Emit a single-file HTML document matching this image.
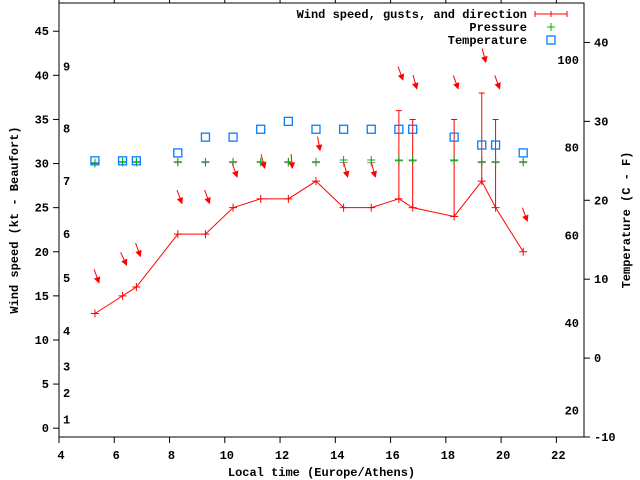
<!DOCTYPE html>
<html><head><meta charset="utf-8"><style>
body{margin:0;background:#fff}
svg{display:block}
text{font-family:"Liberation Mono","DejaVu Sans Mono",monospace;font-size:12px;font-weight:bold;fill:#000}
</style></head><body>
<svg id="chart" width="640" height="480" viewBox="0 0 640 480">
<g id="axes"></g><g id="marks"></g><g id="legend"></g>
</svg>
<script>
const hours=[5.3,6.3,6.8,8.3,9.3,10.3,11.3,12.3,13.3,14.3,15.3,16.3,16.8,18.3,19.3,19.8,20.8];
const windSpeed=[13,15,16,22,22,25,26,26,28,25,25,26,25,24,28,25,20];
const gusts=[null,null,null,null,null,null,null,null,null,null,null,36,35,35,38,35,null];
const pressure=[30.0,30.2,30.2,30.2,30.2,30.2,30.2,30.2,30.2,30.4,30.4,30.4,30.4,30.4,30.2,30.2,30.2];
const pressureGrey=[30.1,30.1,30.1,30.1,30.1,30.1,30.1,30.1,30.1,30.1,30.1,30.3,30.3,30.3,30.1,30.1,30.1];
const temperature=[25,25,25,26,28,28,29,30,29,29,29,29,29,28,27,27,26];
const windDir=[340,335,340,340,340,340,345,355,350,345,345,340,345,340,345,340,340];
const xTicks=[4,6,8,10,12,14,16,18,20,22];
const yTicks=[0,5,10,15,20,25,30,35,40,45];
const y2Ticks=[-10,0,10,20,30,40];
const fTicks=[20,40,60,80,100];
const beaufort=[1,4,7,11,17,22,28,34,41];
const L=59,R=584,T=3,B=437;
const X=v=>L+(v-4)*(R-L)/19;
const Y=v=>B-(v+1)*(B-T)/49.2;
const Y2=v=>B-(v+10)*(B-T)/55;
const NS="http://www.w3.org/2000/svg";
function mk(p,tag,attrs){const e=document.createElementNS(NS,tag);for(const k in attrs)e.setAttribute(k,attrs[k]);p.appendChild(e);return e;}
const ax=document.getElementById('axes'),mg=document.getElementById('marks'),lg=document.getElementById('legend');
let e=mk(ax,'rect',{x:L,y:T,width:R-L,height:B-T,fill:'none',stroke:'#000','stroke-width':1});


xTicks.forEach(v=>{
 mk(ax,'line',{x1:X(v),x2:X(v),y1:B,y2:B+6,stroke:'#000'});
 mk(ax,'line',{x1:X(v),x2:X(v),y1:T,y2:T-6,stroke:'#000'});
 const t=mk(ax,'text',{x:X(v)+2,y:B+22,'text-anchor':'middle'});t.textContent=v;
 
 
});
yTicks.forEach(v=>{
 mk(ax,'line',{x1:L-6,x2:L,y1:Y(v),y2:Y(v),stroke:'#000'});
 const t=mk(ax,'text',{x:L-10,y:Y(v)+4,'text-anchor':'end'});t.textContent=v;
 
 
});
y2Ticks.forEach(v=>{
 mk(ax,'line',{x1:R,x2:R+6,y1:Y2(v),y2:Y2(v),stroke:'#000'});
 const t=mk(ax,'text',{x:R+10,y:Y2(v)+4});t.textContent=v;
 
 
});
fTicks.forEach(f=>{
 const t=mk(ax,'text',{x:R-5,y:Y2((f-32)*5/9)+4,'text-anchor':'end'});t.textContent=f;
 
 
});
beaufort.forEach((k,i)=>{
 const t=mk(ax,'text',{x:63,y:Y(k)+4});t.textContent=i+1;
 
 
});
e=mk(ax,'text',{x:(L+R)/2,y:476,'text-anchor':'middle'});e.textContent='Local time (Europe/Athens)';


e=mk(ax,'text',{x:0,y:0,'text-anchor':'middle',transform:'translate(18,220) rotate(-90)'});e.textContent='Wind speed (kt - Beaufort)';


e=mk(ax,'text',{x:0,y:0,'text-anchor':'middle',transform:'translate(630,220) rotate(-90)'});e.textContent='Temperature (C - F)';


function plus(g,x,y,c,name){
 const p=mk(g,'path',{d:`M${x-4},${y}h8M${x},${y-4}v8`,stroke:c,fill:'none'});
 
 
}
hours.forEach((h,i)=>plus(mg,X(h),Y(pressureGrey[i]),'#888','grey-point'));
hours.forEach((h,i)=>{if(gusts[i]==null)return;
 const g=mk(mg,'path',{d:`M${X(h)},${Y(windSpeed[i])}V${Y(gusts[i])}M${X(h)-3},${Y(gusts[i])}h6`,stroke:'#f00',fill:'none'});
 
 
});
let d='';hours.forEach((h,i)=>{d+=(i?'L':'M')+X(h)+','+Y(windSpeed[i]);});
e=mk(mg,'path',{d:d,stroke:'#f00',fill:'none'});


hours.forEach((h,i)=>plus(mg,X(h),Y(windSpeed[i]),'#f00','wind-point'));
hours.forEach((h,i)=>{
 const top=Math.max(windSpeed[i],gusts[i]||0)+3.5;
 const tx=X(h)+4,ty=Y(top);
 const a=windDir[i]*Math.PI/180;
 const dx=Math.sin(a),dy=-Math.cos(a);
 const sx=tx+dx*14,sy=ty+dy*14;
 const px=-dy,py=dx;
 const g=mk(mg,'g',{});
 
 
 mk(g,'line',{x1:sx,y1:sy,x2:tx,y2:ty,stroke:'#f00'});
 mk(g,'path',{d:`M${tx},${ty}L${tx+dx*5+px*2.5},${ty+dy*5+py*2.5}L${tx+dx*5-px*2.5},${ty+dy*5-py*2.5}Z`,fill:'#f00',stroke:'#f00'});
});
hours.forEach((h,i)=>plus(mg,X(h),Y(pressure[i]),'#00b000','pressure-point'));
hours.forEach((h,i)=>{
 const r=mk(mg,'rect',{x:X(h)-4,y:Y2(temperature[i])-4,width:8,height:8,fill:'none',stroke:'#0080ff','stroke-width':1.3});
 
 
});
const items=[['Wind speed, gusts, and direction','wind'],['Pressure','pressure'],['Temperature','temp']];
items.forEach((it,i)=>{
 const y=14+i*13;
 const t=mk(lg,'text',{x:527,y:y+4,'text-anchor':'end'});t.textContent=it[0];
 
 
 if(it[1]=='wind'){mk(lg,'path',{d:`M535,${y}h32M535,${y-3}v6M567,${y-3}v6M551,${y-3}v6`,stroke:'#f00',fill:'none'});}
 else if(it[1]=='pressure')plus(lg,551,y,'#00b000','legend-pressure-marker');
 else mk(lg,'rect',{x:547,y:y-4,width:8,height:8,fill:'none',stroke:'#0080ff','stroke-width':1.3});
});
</script>
</body></html>
